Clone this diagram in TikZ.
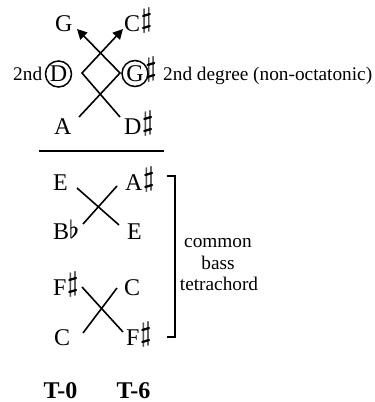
\documentclass[tikz,border=0pt]{standalone}
\usepackage{fontspec}
\setmainfont{Liberation Serif}
\usetikzlibrary{arrows.meta}
\newcommand\shp{\kern0.6pt\raisebox{3.5pt}{\scalebox{1.12}{\rlap{$\sharp$}\kern0.7pt$\sharp$}}}
\newcommand\flt{\raisebox{0.5pt}{\rlap{$\flat$}\kern0.5pt$\flat$}}
\begin{document}
\begin{tikzpicture}[x=1pt,y=-1pt,
  note/.style={font=\fontsize{24}{28}\selectfont, inner sep=0pt, anchor=base west},
  lab/.style={font=\fontsize{19.3}{22}\selectfont, inner sep=0pt},
  circ/.style={circle, draw, line width=1.5pt, minimum size=26pt, inner sep=0pt, font=\fontsize{24}{28}\selectfont},
  ln/.style={line width=1.6pt},
  arr/.style={ln, -{Triangle[length=10pt,width=10pt]}},
  boldlab/.style={font=\fontsize{24}{28}\selectfont\bfseries, inner sep=0pt, anchor=base}]
\useasboundingbox (0,0) rectangle (375,402);

% top section
\node[note] (g) at (55,31) {G};
\node[note] (cs) at (124,31) {C\shp};
\node[circ] (d) at (58.5,74) {D};
\node[circ] (gs) at (135,73.5) {G};
\node[note] (gsharp) at (144.5,80) {\shp};
\node[lab, anchor=base west] (second) at (13,80) {2nd};
\node[lab, anchor=base west] (degree) at (163,80) {2nd degree (non-octatonic)};
\node[note] (a) at (54,134) {A};
\node[note] (ds) at (124,134) {D\shp};

\coordinate (aend) at (79,117);
\coordinate (dsend) at (120,117);
\coordinate (rv) at (120,73);
\coordinate (lv) at (82,73);
\coordinate (gtip) at (77,29);
\coordinate (cstip) at (123,29);
\draw[arr] (aend) -- (rv) -- (gtip);
\draw[arr] (dsend) -- (lv) -- (cstip);

% rule
\coordinate (rl) at (39,151);
\coordinate (rr) at (164,151);
\draw[line width=1.4pt] (rl) -- (rr);

% lower section
\node[note] (e1) at (53,190) {E};
\node[note] (as) at (125,190) {A\shp};
\node[note] (bb) at (53,239) {B\flt};
\node[note] (e2) at (127,239) {E};
\node[note] (fs1) at (53,295) {F\shp};
\node[note] (c1) at (124,295) {C};
\node[note] (c2) at (54,345) {C};
\node[note] (fs2) at (126,345) {F\shp};

\coordinate (x1a) at (77,188);
\coordinate (x1b) at (119,225);
\coordinate (x1c) at (83,224);
\coordinate (x1d) at (117,186);
\draw[ln] (x1a) -- (x1b);
\draw[ln] (x1c) -- (x1d);

\coordinate (x2a) at (82,287);
\coordinate (x2b) at (123,332);
\coordinate (x2c) at (83,333);
\coordinate (x2d) at (117,288);
\draw[ln] (x2a) -- (x2b);
\draw[ln] (x2c) -- (x2d);

% bracket
\coordinate (bt) at (167,176);
\coordinate (bb1) at (167,337);
\draw[line width=2pt] (bt) -- ++(8,0) |- (bb1);

\node[lab, anchor=base] (common) at (218,247) {common};
\node[lab, anchor=base] (bass) at (218,269) {bass};
\node[lab, anchor=base] (tetra) at (219,290) {tetrachord};

% transposition labels
\node[boldlab] (t0) at (60.5,398) {T-0};
\node[boldlab] (t6) at (133.5,398) {T-6};
\end{tikzpicture}
\end{document}
